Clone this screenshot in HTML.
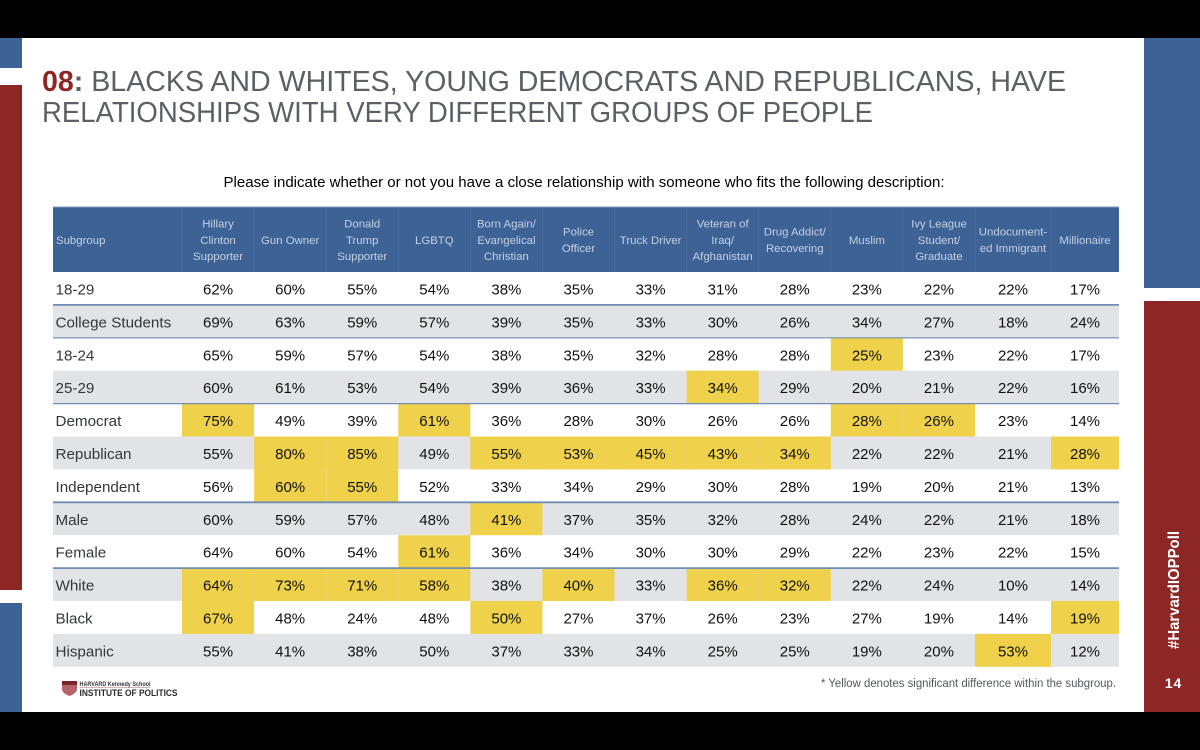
<!DOCTYPE html>
<html lang="en">
<head>
<meta charset="utf-8">
<title>Close relationships by subgroup</title>
<style>
html,body{margin:0;padding:0;background:#000;}
body{width:1200px;height:750px;overflow:hidden;}
svg{display:block;}
text{font-family:"Liberation Sans",sans-serif;}
</style>
</head>
<body>
<svg id="chart" xmlns="http://www.w3.org/2000/svg" width="1200" height="750" viewBox="0 0 1200 750">
  <rect x="0" y="0" width="1200" height="38" fill="#000"/>
  <rect x="0" y="712" width="1200" height="38" fill="#000"/>
  <rect x="0" y="38" width="1200" height="674" fill="#fff"/>
  <rect x="0" y="38" width="22" height="30" fill="#3c6296"/>
  <rect x="0" y="85" width="22" height="505" fill="#8c2725"/>
  <rect x="0" y="603" width="22" height="109" fill="#3c6296"/>
  <rect x="1144" y="38" width="56" height="250" fill="#3c6296"/>
  <rect x="1144" y="301" width="56" height="411" fill="#8c2725"/>

  <text x="42" y="91" font-size="29" fill="#5c6066" textLength="1024" lengthAdjust="spacingAndGlyphs"><tspan font-weight="700" fill="#8c2725">08</tspan><tspan font-weight="700">:</tspan> BLACKS AND WHITES, YOUNG DEMOCRATS AND REPUBLICANS, HAVE</text>
  <text x="42" y="122" font-size="29" fill="#5c6066" textLength="831" lengthAdjust="spacingAndGlyphs">RELATIONSHIPS WITH VERY DIFFERENT GROUPS OF PEOPLE</text>
  <text x="584" y="187" font-size="14.5" fill="#000" text-anchor="middle" textLength="721" lengthAdjust="spacingAndGlyphs">Please indicate whether or not you have a close relationship with someone who fits the following description:</text>

  <g id="table"></g>

  <text x="1116" y="687" font-size="11.5" fill="#54585e" text-anchor="end" textLength="295" lengthAdjust="spacingAndGlyphs">* Yellow denotes significant difference within the subgroup.</text>

  <g>
    <path d="M62 681H77V689C77 693 72 695 69.500 696C67 695 62 693 62 689Z" fill="#b4636a"/>
    <rect x="62" y="681" width="15" height="4" fill="#7e2427"/>
    <text x="79.500" y="686" font-size="6.500" font-weight="700" fill="#333" textLength="71" lengthAdjust="spacingAndGlyphs">HARVARD Kennedy School</text>
    <line x1="79.500" y1="687.500" x2="150" y2="687.500" stroke="#b4636a" stroke-width="0.600"/>
    <text x="79.500" y="696" font-size="9" font-weight="700" fill="#2a2a2a" textLength="98" lengthAdjust="spacingAndGlyphs">INSTITUTE OF POLITICS</text>
  </g>

  <text transform="translate(1179 649) rotate(-90)" font-size="15.500" font-weight="700" fill="#fff" textLength="118" lengthAdjust="spacingAndGlyphs">#HarvardIOPPoll</text>
  <text x="1173.500" y="688" font-size="14" font-weight="700" fill="#fff" text-anchor="middle" letter-spacing="0.800">14</text>
</svg>

<script>
const subgroupHeader = 'Subgroup';
const columnHeaders = [
  ['Hillary','Clinton','Supporter'],
  ['Gun Owner'],
  ['Donald','Trump','Supporter'],
  ['LGBTQ'],
  ['Born Again/','Evangelical','Christian'],
  ['Police','Officer'],
  ['Truck Driver'],
  ['Veteran of','Iraq/','Afghanistan'],
  ['Drug Addict/','Recovering'],
  ['Muslim'],
  ['Ivy League','Student/','Graduate'],
  ['Undocument-','ed Immigrant'],
  ['Millionaire']
];
const subgroups = ['18-29','College Students','18-24','25-29','Democrat','Republican','Independent','Male','Female','White','Black','Hispanic'];
const percentages = [
  [62,60,55,54,38,35,33,31,28,23,22,22,17],
  [69,63,59,57,39,35,33,30,26,34,27,18,24],
  [65,59,57,54,38,35,32,28,28,25,23,22,17],
  [60,61,53,54,39,36,33,34,29,20,21,22,16],
  [75,49,39,61,36,28,30,26,26,28,26,23,14],
  [55,80,85,49,55,53,45,43,34,22,22,21,28],
  [56,60,55,52,33,34,29,30,28,19,20,21,13],
  [60,59,57,48,41,37,35,32,28,24,22,21,18],
  [64,60,54,61,36,34,30,30,29,22,23,22,15],
  [64,73,71,58,38,40,33,36,32,22,24,10,14],
  [67,48,24,48,50,27,37,26,23,27,19,14,19],
  [55,41,38,50,37,33,34,25,25,19,20,53,12]
];
const significant = [
  [0,0,0,0,0,0,0,0,0,0,0,0,0],
  [0,0,0,0,0,0,0,0,0,0,0,0,0],
  [0,0,0,0,0,0,0,0,0,1,0,0,0],
  [0,0,0,0,0,0,0,1,0,0,0,0,0],
  [1,0,0,1,0,0,0,0,0,1,1,0,0],
  [0,1,1,0,1,1,1,1,1,0,0,0,1],
  [0,1,1,0,0,0,0,0,0,0,0,0,0],
  [0,0,0,0,1,0,0,0,0,0,0,0,0],
  [0,0,0,1,0,0,0,0,0,0,0,0,0],
  [1,1,1,1,0,1,0,1,1,0,0,0,0],
  [1,0,0,0,1,0,0,0,0,0,0,0,1],
  [0,0,0,0,0,0,0,0,0,0,0,1,0]
];
const groupBreakAfter = [0,1,3,6,8];

const SVG_NS = 'http://www.w3.org/2000/svg';
const table = document.getElementById('table');
const tableLeft = 53, tableRight = 1119, firstColumn = 182;
const headerTop = 207, headerBottom = 272, rowHeight = 32.9;

function columnLeft(i) {
  if (i <= 11) return firstColumn + i * 72.09;
  if (i === 12) return 1051;
  return tableRight;
}
function rowTop(r) { return headerBottom + r * rowHeight; }
function make(tag, attrs, text) {
  const el = document.createElementNS(SVG_NS, tag);
  for (const k in attrs) el.setAttribute(k, attrs[k]);
  if (text !== undefined) el.textContent = text;
  return el;
}
function slug(s) { return s.toLowerCase().replace(/[^a-z0-9]+/g, '-').replace(/^-|-$/g, ''); }

const headerBg = make('rect', {x: tableLeft, y: headerTop, width: tableRight - tableLeft, height: headerBottom - headerTop, fill: '#3c6296'});


table.appendChild(headerBg);

const headerEdge = make('line', {x1: tableLeft, x2: tableRight, y1: headerTop, y2: headerTop, stroke: '#7f9bbf', 'stroke-width': 1});


table.appendChild(headerEdge);

const subgroupLabel = make('text', {x: 56, y: 244, 'font-size': 11.4, fill: '#c6d1e1'}, subgroupHeader);


table.appendChild(subgroupLabel);

columnHeaders.forEach(function (lines, c) {
  const cx = (columnLeft(c) + columnLeft(c + 1)) / 2;
  const sep = make('line', {x1: columnLeft(c), x2: columnLeft(c), y1: headerTop + 1, y2: headerBottom, stroke: '#4c6f9f', 'stroke-width': 0.8});
  
  
  table.appendChild(sep);
  const label = make('text', {'font-size': 11.4, fill: '#c6d1e1', 'text-anchor': 'middle'});
  
  
  lines.forEach(function (line, i) {
    const y = 243.8 + (i - (lines.length - 1) / 2) * 16.4;
    label.appendChild(make('tspan', {x: cx, y: y.toFixed(1)}, line));
  });
  table.appendChild(label);
});

subgroups.forEach(function (name, r) {
  const top = rowTop(r);
  const stripe = make('rect', {x: tableLeft, y: top, width: tableRight - tableLeft, height: rowHeight, fill: r % 2 ? '#e1e3e7' : '#ffffff'});
  
  
  table.appendChild(stripe);
});

subgroups.forEach(function (name, r) {
  const top = rowTop(r);
  const mid = top + rowHeight / 2 + 6;
  const label = make('text', {x: 55.5, y: mid, 'font-size': 15.2, fill: '#33363a'}, name);
  
  
  table.appendChild(label);
  percentages[r].forEach(function (value, c) {
    const left = columnLeft(c), right = columnLeft(c + 1);
    if (significant[r][c]) {
      const cell = make('rect', {x: left, y: top, width: right - left, height: rowHeight, fill: '#efd14c'});
      
      
      table.appendChild(cell);
    }
    const t = make('text', {x: (left + right) / 2, y: mid, 'font-size': 15, fill: '#111', 'text-anchor': 'middle'}, value + '%');
    
    
    table.appendChild(t);
  });
});

groupBreakAfter.forEach(function (r) {
  const y = rowTop(r + 1);
  const rule = make('line', {x1: tableLeft, x2: tableRight, y1: y, y2: y, stroke: '#6f8cb3', 'stroke-width': (r === 1 || r === 3) ? 1.2 : 1.8});
  
  
  table.appendChild(rule);
});
</script>
</body>
</html>
